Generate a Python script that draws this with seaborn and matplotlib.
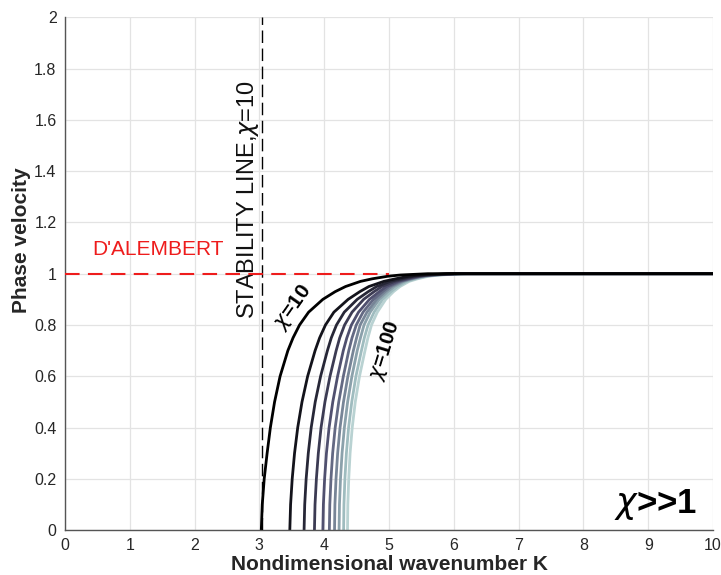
import numpy as np
import pandas as pd
import matplotlib
matplotlib.use("Agg")
import matplotlib.pyplot as plt
import seaborn as sns

# ---- data ----
chi_values = [10, 20, 30, 40, 50, 60, 70, 80, 90, 100]
c_levels = [0.0, 0.1, 0.2, 0.3, 0.4, 0.5, 0.6, 0.7, 0.75, 0.8, 0.85, 0.9,
            0.93, 0.95, 0.97, 0.98, 0.99, 0.995, 1.0, 1.0]
K_chi10 = [3.03, 3.045, 3.075, 3.12, 3.17, 3.235, 3.32, 3.44, 3.52, 3.62, 3.76, 3.98, 4.17, 4.33, 4.56, 4.74, 4.98, 5.18, 5.60, 10]
K_chi20 = [3.47, 3.482, 3.507, 3.543, 3.592, 3.658, 3.745, 3.86, 3.93, 4.02, 4.15, 4.37, 4.55, 4.69, 4.92, 5.10, 5.30, 5.48, 5.90, 10]
K_chi30 = [3.69, 3.70, 3.722, 3.755, 3.80, 3.862, 3.945, 4.05, 4.11, 4.19, 4.31, 4.51, 4.68, 4.81, 5.02, 5.19, 5.38, 5.56, 5.98, 10]
K_chi40 = [3.85, 3.859, 3.88, 3.91, 3.952, 4.012, 4.09, 4.185, 4.24, 4.315, 4.43, 4.61, 4.77, 4.89, 5.09, 5.25, 5.43, 5.60, 6.02, 10]
K_chi50 = [3.98, 3.988, 4.007, 4.035, 4.076, 4.133, 4.207, 4.295, 4.35, 4.42, 4.53, 4.70, 4.85, 4.96, 5.14, 5.29, 5.47, 5.63, 6.05, 10]
K_chi60 = [4.08, 4.087, 4.105, 4.131, 4.17, 4.225, 4.296, 4.38, 4.43, 4.495, 4.60, 4.76, 4.90, 5.00, 5.17, 5.31, 5.49, 5.65, 6.07, 10]
K_chi70 = [4.16, 4.166, 4.183, 4.208, 4.245, 4.298, 4.366, 4.45, 4.50, 4.555, 4.66, 4.81, 4.94, 5.04, 5.20, 5.34, 5.51, 5.68, 6.10, 10]
K_chi80 = [4.23, 4.236, 4.252, 4.276, 4.312, 4.362, 4.428, 4.51, 4.56, 4.615, 4.71, 4.85, 4.98, 5.08, 5.23, 5.36, 5.53, 5.71, 6.12, 10]
K_chi90 = [4.30, 4.305, 4.32, 4.343, 4.377, 4.426, 4.49, 4.575, 4.62, 4.677, 4.77, 4.90, 5.03, 5.13, 5.27, 5.40, 5.57, 5.75, 6.16, 10]
K_chi100 = [4.36, 4.365, 4.379, 4.40, 4.433, 4.48, 4.545, 4.63, 4.675, 4.73, 4.82, 4.95, 5.07, 5.17, 5.31, 5.44, 5.61, 5.79, 6.20, 10]
stability_K = 3.04
dalembert_c = 1.0
dalembert_K_range = [0.0, 5.0]
x_ticks = list(range(0, 11))
y_ticks = [0, 0.2, 0.4, 0.6, 0.8, 1, 1.2, 1.4, 1.6, 1.8, 2]
y_tick_labels = ["0", "0.2", "0.4", "0.6", "0.8", "1", "1.2", "1.4", "1.6", "1.8", "2"]

K_curves = [K_chi10, K_chi20, K_chi30, K_chi40, K_chi50,
            K_chi60, K_chi70, K_chi80, K_chi90, K_chi100]

rows = []
for chi, Ks in zip(chi_values, K_curves):
    for k, c in zip(Ks, c_levels):
        rows.append({"K": k, "c": c, "chi": chi})
df = pd.DataFrame(rows)

sns.set_theme(style="whitegrid")
plt.rcParams["font.family"] = ["Liberation Sans", "DejaVu Sans"]
plt.rcParams["mathtext.fontset"] = "dejavusans"

fig = plt.figure(figsize=(7.21, 5.75), dpi=100)
ax = fig.add_axes([0.090, 0.078, 0.899, 0.892])

cmap = matplotlib.colormaps["bone"]
colors = [cmap(v) for v in np.linspace(0.0, 0.80, len(chi_values))]
palette = dict(zip(chi_values, colors))

sns.lineplot(data=df, x="K", y="c", hue="chi", palette=palette,
             hue_order=chi_values[::-1],
             estimator=None, sort=False, legend=False, linewidth=2.0, ax=ax)
for ln in ax.get_lines():
    ln.set_solid_joinstyle("round")
    ln.set_solid_capstyle("round")

ax.axvline(stability_K, color="black", lw=1.0, ls=(0, (9, 4)), zorder=3)
ax.plot(dalembert_K_range, [dalembert_c, dalembert_c], color="#ee1c1c",
        lw=1.5, ls=(0, (7, 4)), zorder=4)

ax.set_xlim(0, 10)
ax.set_ylim(0, 2)
ax.set_xticks(x_ticks)
ax.set_yticks(y_ticks)
ax.set_yticklabels(y_tick_labels)
ax.grid(True, color="#e3e3e3", lw=0.9)
ax.tick_params(axis="both", direction="in", length=4, width=0.8,
               colors="#444444", labelsize=11.5, labelcolor="#262626", pad=6)
for s in ["top", "right"]:
    ax.spines[s].set_visible(False)
for s in ["left", "bottom"]:
    ax.spines[s].set_color("#555555")
    ax.spines[s].set_linewidth(1.0)

ax.set_xlabel("Nondimensional wavenumber K", fontsize=15, fontweight="bold",
              color="#262626", labelpad=1)
ax.set_ylabel("Phase velocity", fontsize=15, fontweight="bold",
              color="#262626", labelpad=4)
ax.yaxis.set_label_coords(-0.053, 0.565)

ax.text(2.83, 1.29, r"STABILITY LINE,$\chi$=10", rotation=90, fontsize=17,
        ha="center", va="center", color="#111111")
ax.text(0.42, 1.095, "D'ALEMBERT", fontsize=15, color="#ee1c1c",
        ha="left", va="center")
ax.text(3.52, 0.87, r"$\chi$=10", rotation=55, fontsize=15, fontweight="bold",
        ha="center", va="center", color="black")
ax.text(4.95, 0.70, r"$\chi$=100", rotation=73, fontsize=15, fontweight="bold",
        ha="center", va="center", color="black")
ax.text(9.12, 0.10, r"$\chi$>>1", fontsize=25, fontweight="bold",
        ha="center", va="center", color="black")

fig.savefig("out.png", dpi=100)
